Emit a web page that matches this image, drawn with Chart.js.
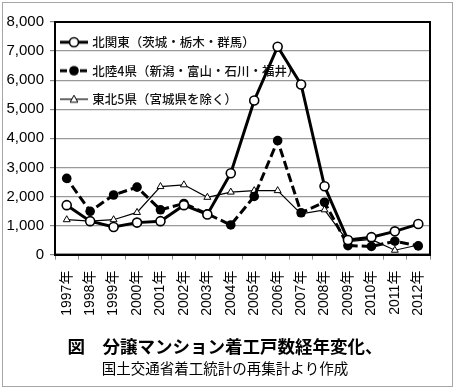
<!DOCTYPE html>
<html>
<head>
<meta charset="utf-8">
<script src="https://cdn.jsdelivr.net/npm/chart.js@4/dist/chart.umd.min.js"></script>
<style>
  html, body { margin: 0; padding: 0; background: #fff; }
  #wrap { position: relative; width: 455px; height: 390px; }
  #frame { position: absolute; left: 2px; top: 2px; width: 451px; height: 385px; border: 1px solid #a6a6a6; box-sizing: border-box; }
  #c { position: absolute; left: 0; top: 0; }
</style>
</head>
<body>
<div id="wrap">
  <div id="frame"></div>
  <canvas id="c" width="455" height="390"></canvas>
</div>
<script>
// ---- data ----
const years = ['1997年','1998年','1999年','2000年','2001年','2002年','2003年','2004年','2005年','2006年','2007年','2008年','2009年','2010年','2011年','2012年'];
const seriesNames = ['北関東（茨城・栃木・群馬）', '北陸4県（新潟・富山・石川・福井）', '東北5県（宮城県を除く）'];
const kitaKanto = [1700, 1150, 950, 1100, 1150, 1700, 1380, 2800, 5300, 7150, 5850, 2350, 500, 600, 800, 1050];
const hokuriku = [2620, 1490, 2050, 2320, 1540, 1760, 1400, 1020, 2000, 3920, 1440, 1800, 310, 280, 460, 300];
const tohoku = [1200, 1150, 1200, 1450, 2340, 2400, 1970, 2150, 2200, 2200, 1400, 1540, 450, 520, 150, 330];
const titleText = '図　分譲マンション着工戸数経年変化、';
const subtitleText = '国土交通省着工統計の再集計より作成';

const JP = '"Noto Sans CJK JP", "Liberation Sans", sans-serif';
const NUM = '"Liberation Sans", "Noto Sans CJK JP", sans-serif';

// legend sample images (line + marker)
function legendImg(kind) {
  const cv = document.createElement('canvas');
  cv.width = 37; cv.height = 14;
  const g = cv.getContext('2d');
  const cy = 7, x0 = 0, x1 = 28, mx = 14;
  g.strokeStyle = '#000';
  if (kind === 0) {
    g.lineWidth = 3; g.beginPath(); g.moveTo(x0, cy); g.lineTo(x1, cy); g.stroke();
    g.beginPath(); g.arc(mx, cy, 4.5, 0, Math.PI * 2); g.fillStyle = '#fff'; g.fill();
    g.lineWidth = 1.6; g.stroke();
  } else if (kind === 1) {
    g.lineWidth = 3; g.setLineDash([7, 3]); g.beginPath(); g.moveTo(x0, cy); g.lineTo(x1, cy); g.stroke();
    g.setLineDash([]);
    g.beginPath(); g.arc(mx, cy, 4.8, 0, Math.PI * 2); g.fillStyle = '#000'; g.fill();
  } else {
    g.lineWidth = 1.2; g.beginPath(); g.moveTo(x0, cy); g.lineTo(x1, cy); g.stroke();
    g.beginPath(); g.moveTo(mx, cy - 4); g.lineTo(mx + 3.8, cy + 3); g.lineTo(mx - 3.8, cy + 3); g.closePath();
    g.fillStyle = '#fff'; g.fill(); g.lineWidth = 1; g.stroke();
  }
  return cv;
}
const legendImgs = [legendImg(0), legendImg(1), legendImg(2)];

const framePlugin = {
  id: 'frame',
  beforeDatasetsDraw(chart) {
    const a = chart.chartArea, ctx = chart.ctx;
    ctx.save();
    ctx.strokeStyle = '#000';
    ctx.lineWidth = 2;
    ctx.strokeRect(a.left, a.top, a.right - a.left, a.bottom - a.top);
    ctx.restore();
  }
};

new Chart(document.getElementById('c'), {
  type: 'line',
  data: {
    labels: years,
    datasets: [
      {
        label: seriesNames[0], data: kitaKanto,
        borderColor: '#000', borderWidth: 3, backgroundColor: '#fff',
        pointStyle: 'circle', pointRadius: 4.5, pointBorderWidth: 1.6,
        pointBackgroundColor: '#fff', pointBorderColor: '#000', tension: 0
      },
      {
        label: seriesNames[1], data: hokuriku,
        borderColor: '#000', borderWidth: 3, borderDash: [9, 4], borderDashOffset: 4, backgroundColor: '#000',
        pointStyle: 'circle', pointRadius: 4.8, pointBorderWidth: 0,
        pointBackgroundColor: '#000', pointBorderColor: '#000', tension: 0
      },
      {
        label: seriesNames[2], data: tohoku,
        borderColor: '#000', borderWidth: 1.2, backgroundColor: '#fff',
        pointStyle: 'triangle', pointRadius: 4, pointBorderWidth: 1,
        pointBackgroundColor: '#fff', pointBorderColor: '#000', tension: 0
      }
    ]
  },
  options: {
    responsive: false,
    animation: false,
    devicePixelRatio: 1,
    layout: { padding: { left: 0, right: 5, top: 22, bottom: 13 } },
    plugins: {
      legend: {
        position: 'chartArea',
        align: 'start',
        title: { display: true, text: ' ', font: { size: 10, lineHeight: 1.2 }, padding: { top: 8, bottom: 0 } },
        labels: {
          usePointStyle: true,
          pointStyleWidth: 15,
          padding: 16,
          color: '#111',
          font: { family: JP, size: 12.5, weight: '500' },
          generateLabels(chart) {
            return chart.data.datasets.map((ds, i) => ({
              text: ds.label,
              pointStyle: legendImgs[i],
              fillStyle: '#000', strokeStyle: '#000', lineWidth: 0,
              fontColor: '#111',
              hidden: false, datasetIndex: i
            }));
          }
        }
      },
      title: {
        display: true, position: 'bottom', weight: 1000,
        text: titleText, color: '#000',
        font: { family: JP, size: 17.5, weight: 'bold', lineHeight: 1.2 },
        padding: { top: 15, bottom: 0 }
      },
      subtitle: {
        display: true, position: 'bottom', weight: 1500,
        text: subtitleText, color: '#000',
        font: { family: JP, size: 14.5, weight: 'normal', lineHeight: 1.2 },
        padding: { top: 3, bottom: 0 }
      },
      tooltip: { enabled: false }
    },
    scales: {
      x: {
        offset: true,
        grid: { drawOnChartArea: false, drawTicks: true, tickLength: 5, tickColor: '#888', offset: true, lineWidth: 1 },
        border: { display: true, color: '#000', width: 2 },
        ticks: {
          autoSkip: false, minRotation: 90, maxRotation: 90, padding: 11,
          color: '#000', font: { family: NUM, size: 14 }
        },
        afterFit(scale) { scale.height = 66; }
      },
      y: {
        min: 0, max: 8000,
        grid: { color: '#999', lineWidth: 1.2, tickLength: 5, tickColor: '#888' },
        border: { display: true, color: '#000', width: 2 },
        ticks: {
          stepSize: 1000, padding: 6, color: '#000',
          font: { family: NUM, size: 15 },
          callback: (v) => v.toLocaleString('en-US')
        },
        afterFit(scale) { scale.width = 55; }
      },
      yRightSpace: {
        position: 'right',
        display: true,
        grid: { display: false, drawOnChartArea: false },
        border: { display: false },
        ticks: { display: false },
        afterFit(scale) { scale.width = 20; }
      }
    }
  },
  plugins: [framePlugin]
});
</script>
</body>
</html>
